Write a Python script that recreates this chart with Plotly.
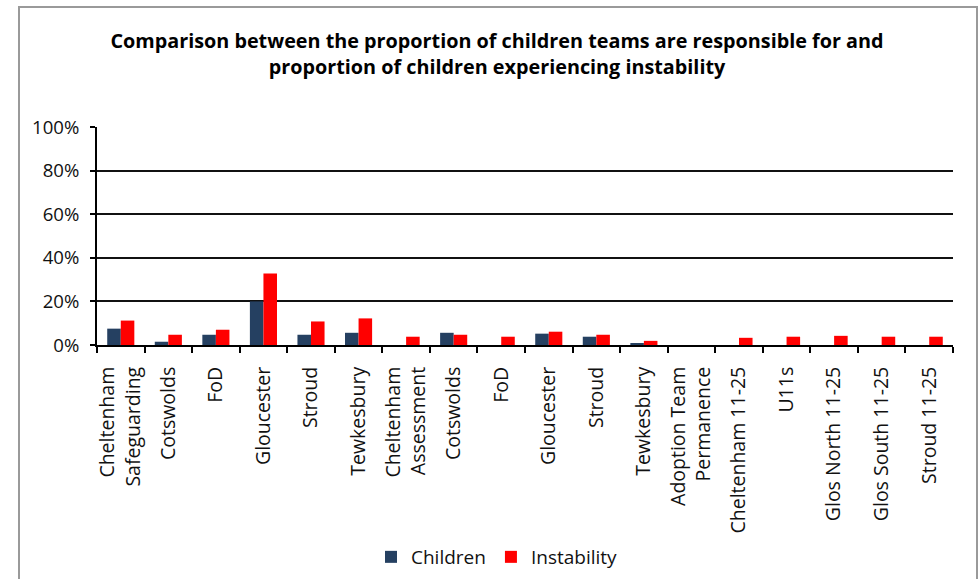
import plotly.graph_objects as go

# Team categories (some team names repeat across service areas)
categories = [
    "Cheltenham<br>Safeguarding", "Cotswolds", "FoD", "Gloucester", "Stroud", "Tewkesbury",
    "Cheltenham<br>Assessment", "Cotswolds", "FoD", "Gloucester", "Stroud", "Tewkesbury",
    "Adoption Team<br>Permanence", "Cheltenham 11-25", "U11s", "Glos North 11-25",
    "Glos South 11-25", "Stroud 11-25",
]

# Proportions (fraction of total)
children = [0.075, 0.015, 0.047, 0.200, 0.047, 0.056,
            0.000, 0.056, 0.000, 0.052, 0.038, 0.005,
            0.000, 0.000, 0.000, 0.000, 0.000, 0.000]
instability = [0.112, 0.047, 0.070, 0.328, 0.108, 0.122,
               0.038, 0.047, 0.038, 0.061, 0.047, 0.019,
               0.000, 0.033, 0.038, 0.042, 0.038, 0.038]

y_ticks = [0, 0.2, 0.4, 0.6, 0.8, 1.0]
y_tick_labels = ["0%", "20%", "40%", "60%", "80%", "100%"]

positions = list(range(len(categories)))
boundaries = [i - 0.5 for i in range(len(categories) + 1)]

FONT = "Open Sans, Calibri, sans-serif"

fig = go.Figure()
fig.add_trace(go.Bar(x=positions, y=children, name="Children",
                     marker=dict(color="#254061", line=dict(width=0))))
fig.add_trace(go.Bar(x=positions, y=instability, name="Instability",
                     marker=dict(color="#FF0000", line=dict(width=0))))

L, R, T, B = 97, 27, 127, 234
W, H = 980, 579
pw, ph = W - L - R, H - T - B

fig.update_layout(
    width=W, height=H,
    margin=dict(l=L, r=R, t=T, b=B, autoexpand=False),
    paper_bgcolor="white", plot_bgcolor="white",
    barmode="group", bargap=0.43, bargroupgap=0,
    font=dict(family=FONT, size=19, color="black"),
    title=dict(
        text="<b>Comparison between the proportion of children teams are responsible for and<br>proportion of children experiencing instability</b>",
        x=497 / W, xanchor="center", y=1 - 48 / H, yanchor="middle",
        font=dict(family=FONT, size=19.8, color="black"),
    ),
    xaxis=dict(
        range=[-0.5, len(categories) - 0.5], automargin=False,
        tickmode="array", tickvals=positions, ticktext=categories,
        tickangle=-90, ticks="", showgrid=False, zeroline=False,
        showline=True, linecolor="black", linewidth=2,
        ticklabelstandoff=12,
        tickfont=dict(family=FONT, size=19.5, color="#111111"),
        minor=dict(tickmode="array", tickvals=boundaries, ticks="outside",
                   ticklen=6, tickwidth=2, tickcolor="black", showgrid=False),
    ),
    yaxis=dict(
        range=[0, 1.0], automargin=False,
        tickmode="array", tickvals=y_ticks, ticktext=y_tick_labels,
        ticks="outside", ticklen=5, tickwidth=2, tickcolor="black",
        ticklabelstandoff=7,
        showgrid=True, gridcolor="#111111", gridwidth=2, zeroline=False,
        showline=True, linecolor="black", linewidth=2,
        tickfont=dict(family=FONT, size=18.6, color="#111111"),
    ),
    legend=dict(
        orientation="h", x=(497 - L) / pw, xanchor="center",
        y=(T + ph - 557) / ph, yanchor="middle",
        font=dict(family=FONT, size=19, color="#111111"),
        itemwidth=30, traceorder="normal",
    ),
    shapes=[dict(
        type="rect", xref="paper", yref="paper", layer="below",
        x0=(19 - L) / pw, x1=(977 - L) / pw,
        y0=(T + ph - 590) / ph, y1=(T + ph - 7) / ph,
        line=dict(color="#9a9a9a", width=2), fillcolor="rgba(0,0,0,0)",
    )],
    showlegend=True,
)

fig.write_html("out.html")
